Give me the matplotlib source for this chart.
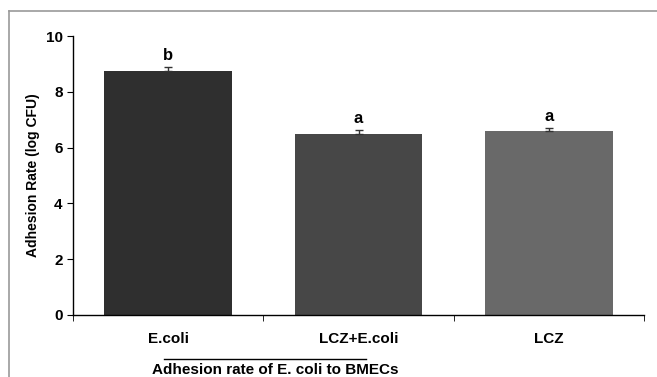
import numpy as np
import matplotlib.pyplot as plt
from matplotlib.lines import Line2D

plt.rcParams['font.family'] = ['Liberation Sans', 'DejaVu Sans']
plt.rcParams['font.weight'] = 'bold'

# data
groups = ["E.coli", "LCZ+E.coli", "LCZ"]
adhesion = [8.75, 6.47, 6.60]
err = [0.15, 0.16, 0.09]
letters = ["b", "a", "a"]
bar_colors = ["#2f2f2f", "#474747", "#696969"]

fig = plt.figure(figsize=(6.57, 3.77), dpi=100)
ax = fig.add_axes([73 / 657, 1 - 315 / 377, (644 - 73) / 657, (315 - 36) / 377])

x = np.arange(len(groups))
ax.bar(x, adhesion, width=0.67, color=bar_colors, zorder=2)
ax.errorbar(x, adhesion, yerr=[np.zeros(len(err)), err], fmt="none",
            ecolor="#333333", elinewidth=1, capsize=3, capthick=1, zorder=3)

for xi, yi, e, lab in zip(x, adhesion, err, letters):
    ax.annotate(lab, (xi, yi + e), xytext=(0, 3), textcoords="offset points",
                ha="center", va="bottom", fontsize=12, fontweight="bold")

ax.set_xlim(-0.5, 2.5)
ax.set_ylim(0, 10)
ax.set_yticks([0, 2, 4, 6, 8, 10])
ax.set_xticks(x)
ax.set_xticklabels(groups, fontsize=11, fontweight="bold")
ax.set_xticks([-0.5, 0.5, 1.5, 2.5], minor=True)
ax.tick_params(axis="x", which="major", length=0, pad=12)
ax.tick_params(axis="x", which="minor", length=4, direction="out")
ax.tick_params(axis="y", length=4, direction="out", labelsize=11)
for t in ax.get_yticklabels():
    t.set_fontweight("bold")
ax.set_ylabel("Adhesion Rate (log CFU)", fontsize=10, fontweight="bold", labelpad=4)

for side in ["top", "right"]:
    ax.spines[side].set_visible(False)
ax.spines["left"].set_linewidth(1)
ax.spines["bottom"].set_linewidth(1)

# grouping line and caption under the axis
fig.add_artist(Line2D([164 / 657, 366 / 657], [1 - 359 / 377, 1 - 359 / 377],
                      color="black", lw=1))
fig.text(275 / 657, 1 - 370 / 377, "Adhesion rate of E. coli to BMECs",
         ha="center", va="center", fontsize=11, fontweight="bold")

# outer grey frame (top and left only)
fig.add_artist(Line2D([9 / 657, 1], [1 - 11 / 377, 1 - 11 / 377], color="#9a9a9a", lw=1.2))
fig.add_artist(Line2D([9 / 657, 9 / 657], [0, 1 - 11 / 377], color="#9a9a9a", lw=1.2))

fig.savefig("out.png", dpi=100)
